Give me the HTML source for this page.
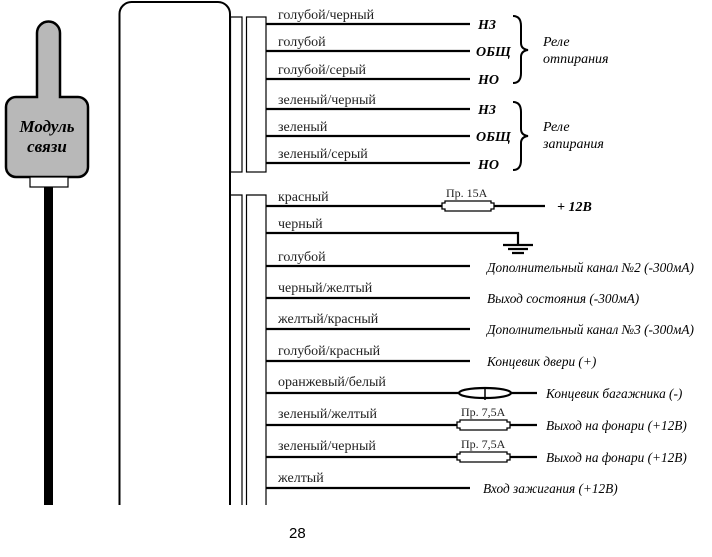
<!DOCTYPE html>
<html><head><meta charset="utf-8"><style>
html,body{margin:0;padding:0;background:#fff;}
svg text{font-family:"Liberation Serif",serif;}
.w{font-size:14px;fill:#222}
.t{font-size:14px;font-style:italic;font-weight:bold}
.r{font-size:14px;font-style:italic}
.f{font-size:12px;fill:#222}
</style></head><body>
<svg width="712" height="552" viewBox="0 0 712 552" xmlns="http://www.w3.org/2000/svg">
<g stroke="#000" fill="none">
<path d="M37,97 V33 A11.5,11.5 0 0 1 60,33 V97 H78 A10,10 0 0 1 88,107 V167 A10,10 0 0 1 78,177 H16 A10,10 0 0 1 6,167 V107 A10,10 0 0 1 16,97 Z" fill="#b8b8b8" stroke-width="2.5"/>
<rect x="30" y="177" width="38" height="10" fill="#fff" stroke-width="1.2"/>
<rect x="44" y="187" width="9" height="318" fill="#000" stroke="none"/>
<path d="M119.5,505 V14 A12,12 0 0 1 131.5,2 H218 A12,12 0 0 1 230,14 V505" stroke-width="2"/>
<rect x="230.5" y="17" width="11.5" height="155" fill="#fff" stroke-width="1.2"/>
<rect x="246.5" y="17" width="19.5" height="155" fill="#fff" stroke-width="1.2"/>
<path d="M230.5,195 H242 V505 M246.5,505 V195 H266 V505" stroke-width="1.2"/>
<g stroke-width="2.2">
<path d="M266,24 H470 M266,51 H470 M266,79 H470 M266,109 H470 M266,136 H470 M266,163 H470"/>
<path d="M266,206 H545 M266,233 H518 V245 M266,266 H470 M266,298 H470 M266,329 H470 M266,361 H470 M266,393 H537 M266,425 H537 M266,457 H537 M266,488 H470"/>
<path d="M503,245 H533 M508,249 H528 M512,253 H524"/>
</g>
<path d="M513,16 Q521,16 521,26 V43 Q521,49 528,50 Q521,51 521,57 V73 Q521,83 513,83" stroke-width="2"/>
<path d="M513,102 Q521,102 521,112 V129 Q521,135 528,136 Q521,137 521,143 V160 Q521,170 513,170" stroke-width="2"/>
<g fill="#fff" stroke-width="1.3">
<path d="M445,201 H491 V203 H494 V209 H491 V211 H445 V209 H442 V203 H445 Z"/>
<path d="M460,420 H507 V422 H510 V428 H507 V430 H460 V428 H457 V422 H460 Z"/>
<path d="M460,452 H507 V454 H510 V460 H507 V462 H460 V460 H457 V454 H460 Z"/>
</g>
<ellipse cx="485" cy="393" rx="26" ry="5" fill="#fff" stroke-width="2.2"/>
<path d="M485,387 V400" stroke-width="1.5"/>
</g>
<g class="w">
<text x="278" y="19">голубой/черный</text>
<text x="278" y="46">голубой</text>
<text x="278" y="74">голубой/серый</text>
<text x="278" y="104">зеленый/черный</text>
<text x="278" y="131">зеленый</text>
<text x="278" y="158">зеленый/серый</text>
<text x="278" y="201">красный</text>
<text x="278" y="228">черный</text>
<text x="278" y="261">голубой</text>
<text x="278" y="292">черный/желтый</text>
<text x="278" y="323">желтый/красный</text>
<text x="278" y="355">голубой/красный</text>
<text x="278" y="386">оранжевый/белый</text>
<text x="278" y="418">зеленый/желтый</text>
<text x="278" y="450">зеленый/черный</text>
<text x="278" y="482">желтый</text>
</g>
<g class="t">
<text x="478" y="29">НЗ</text>
<text x="476" y="56">ОБЩ</text>
<text x="478" y="84">НО</text>
<text x="478" y="114">НЗ</text>
<text x="476" y="141">ОБЩ</text>
<text x="478" y="169">НО</text>
<text x="557" y="211">+ 12В</text>
</g>
<g class="r">
<text x="543" y="46">Реле</text>
<text x="543" y="63">отпирания</text>
<text x="543" y="131">Реле</text>
<text x="543" y="148">запирания</text>
<text x="487" y="272" font-size="13.3">Дополнительный канал №2 (-300мА)</text>
<text x="487" y="303" font-size="13.3">Выход состояния (-300мА)</text>
<text x="487" y="334" font-size="13.3">Дополнительный канал №3 (-300мА)</text>
<text x="487" y="366" font-size="13.3">Концевик двери (+)</text>
<text x="546" y="398" font-size="13.3">Концевик багажника (-)</text>
<text x="546" y="430" font-size="13.3">Выход на фонари (+12В)</text>
<text x="546" y="462" font-size="13.3">Выход на фонари (+12В)</text>
<text x="483" y="493" font-size="13.3">Вход зажигания (+12В)</text>
</g>
<g class="f">
<text x="446" y="197">Пр. 15А</text>
<text x="461" y="416">Пр. 7,5А</text>
<text x="461" y="448">Пр. 7,5А</text>
</g>
<text x="47" y="132" font-size="17" font-style="italic" font-weight="bold" text-anchor="middle">Модуль</text>
<text x="47" y="152" font-size="17" font-style="italic" font-weight="bold" text-anchor="middle">связи</text>
<text x="289" y="538" font-size="15" style="font-family:'Liberation Sans',sans-serif">28</text>
</svg>
</body></html>
